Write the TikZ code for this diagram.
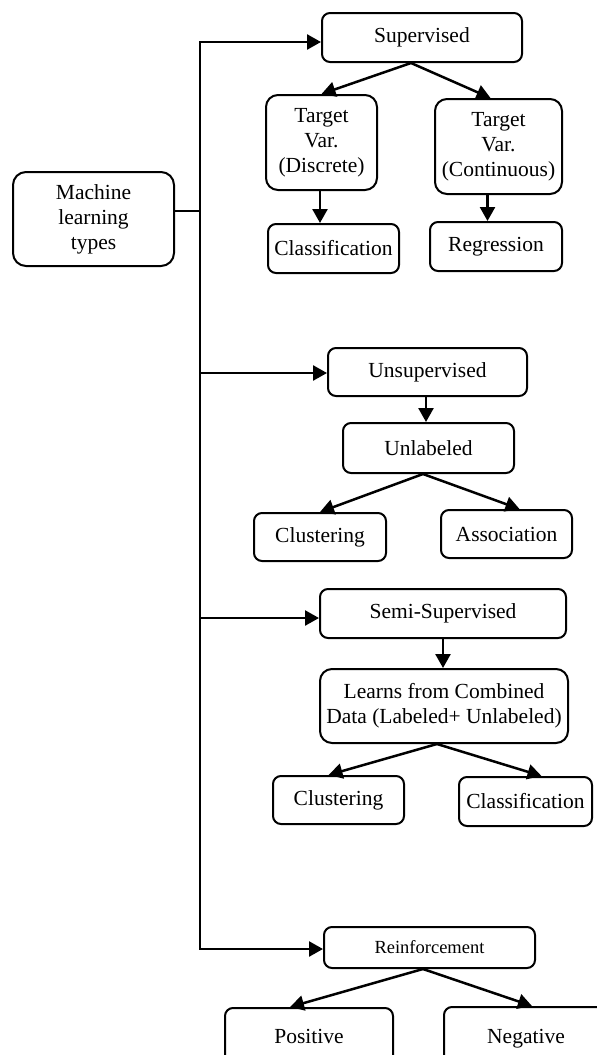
\documentclass[tikz,border=0pt]{standalone}
\usepackage{fontspec}
\setmainfont{Liberation Serif}
\usetikzlibrary{arrows.meta,calc}
\begin{document}
\begin{tikzpicture}[x=1pt,y=-1pt,
  bx/.style={draw, line width=2pt, rounded corners=8pt, align=center, inner sep=0pt,
    font=\fontsize{21.5pt}{25pt}\selectfont},
  ln/.style={line width=2.5pt},
  arr/.style={line width=2.5pt, -{Triangle[length=14pt,width=15pt]}}]
\clip (0,0) rectangle (597,1055);
\useasboundingbox (0,0) rectangle (597,1055);

\node[bx, rounded corners=13pt, minimum width=161pt, minimum height=94pt] (ml) at (93.5,219) {Machine\\learning\\types};

\node[bx, minimum width=200pt, minimum height=49pt] (sup) at (422,37.5) {Supervised};
\node[bx, rounded corners=12pt, minimum width=111pt, minimum height=95pt] (disc) at (321.5,142.5) {Target\\Var.\\(Discrete)};
\node[bx, rounded corners=12pt, minimum width=127pt, minimum height=95pt] (cont) at (498.5,146.5) {Target\\Var.\\(Continuous)};
\node[bx, minimum width=131pt, minimum height=49pt] (cls1) at (333.5,248.5) {Classification};
\node[bx, minimum width=132pt, minimum height=49pt] (reg) at (496,246.5) {Regression};

\node[bx, minimum width=199pt, minimum height=48pt] (unsup) at (427.5,372) {Unsupervised};
\node[bx, minimum width=171pt, minimum height=50pt] (unlab) at (428.5,448) {Unlabeled};
\node[bx, minimum width=132pt, minimum height=48pt] (clu1) at (320,537) {Clustering};
\node[bx, minimum width=131pt, minimum height=48pt] (assoc) at (506.5,534) {Association};

\node[bx, minimum width=246pt, minimum height=49pt] (semi) at (443,613.5) {Semi-Supervised};
\node[bx, rounded corners=12pt, minimum width=248pt, minimum height=74pt] (learn) at (444,706) {Learns from Combined\\Data (Labeled+ Unlabeled)};
\node[bx, minimum width=131pt, minimum height=48pt] (clu2) at (338.5,800) {Clustering};
\node[bx, minimum width=133pt, minimum height=49pt] (cls2) at (525.5,801.5) {Classification};

\node[bx, font=\fontsize{18.5pt}{22pt}\selectfont, minimum width=211pt, minimum height=41pt] (reinf) at (429.5,947.5) {Reinforcement};
\node[bx, minimum width=168pt, minimum height=66pt] (pos) at (309,1041) {\raisebox{10pt}{Positive}};
\node[bx, minimum width=164pt, minimum height=68pt] (neg) at (526,1041) {\raisebox{10pt}{Negative}};

% trunk
\coordinate (t1) at (200,42);
\coordinate (t2) at (200,373);
\coordinate (t3) at (200,618);
\coordinate (t4) at (200,949);
\coordinate (mlo) at ([yshift=8pt]ml.east);
\draw[ln] (mlo) -- (mlo -| t1);
\draw[ln, line join=miter] (t1 -| sup.west) ++(-14,0) -- (t1) -- (t4) -- ++(100,0);
\draw[arr] (t1) -- (t1 -| sup.west);
\draw[arr] (t2) -- (t2 -| unsup.west);
\draw[arr] (t3) -- (t3 -| semi.west);
\draw[arr] (t4) -- (t4 -| reinf.west);

% supervised
\coordinate (s0) at ([xshift=-11pt]sup.south);
\draw[arr] (s0) -- (disc.north);
\draw[arr] (s0) -- ([xshift=-8pt]cont.north);
\draw[arr] ([xshift=-1.5pt]disc.south) -- ([xshift=-1.5pt]disc.south |- cls1.north);
\draw[arr] ([xshift=-11pt]cont.south) -- ([xshift=-11pt]cont.south |- reg.north);

% unsupervised
\draw[arr] ([xshift=-1.5pt]unsup.south) -- ([xshift=-1.5pt]unsup.south |- unlab.north);
\coordinate (u0) at ([xshift=-5.5pt]unlab.south);
\draw[arr] (u0) -- (clu1.north);
\draw[arr] (u0) -- ([xshift=13pt]assoc.north);

% semi
\draw[arr] (semi.south) -- (semi.south |- learn.north);
\coordinate (l0) at ([xshift=-7pt]learn.south);
\draw[arr] (l0) -- ([xshift=-10pt]clu2.north);
\draw[arr] (l0) -- ([xshift=16pt]cls2.north);

% reinforcement
\coordinate (r0) at ([xshift=-6.5pt]reinf.south);
\draw[arr] (r0) -- ([xshift=-19pt]pos.north);
\draw[arr] (r0) -- ([xshift=6pt]neg.north);
\end{tikzpicture}
\end{document}
